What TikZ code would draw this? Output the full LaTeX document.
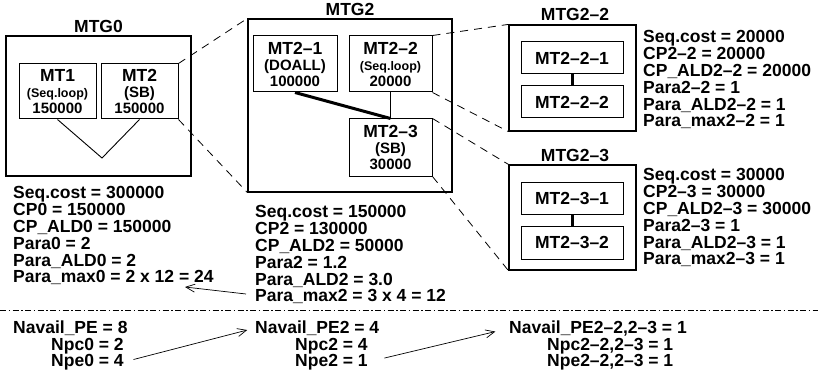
\documentclass[tikz,border=0pt]{standalone}
\usepackage{fontspec}
\setmainfont{Liberation Sans}
\usetikzlibrary{arrows.meta}
\newcommand{\subl}[1]{{\fontsize{12.5}{16}\selectfont #1}}
\newcommand{\numl}[1]{{\fontsize{15}{16}\selectfont #1}}
\begin{document}
\begin{tikzpicture}[x=1pt,y=-1pt,
  every node/.style={inner sep=0pt},
  txt/.style={font=\fontsize{17.5}{16.8}\selectfont\bfseries},
  grp/.style 2 args={draw,line width=1.2pt,minimum width=#1,minimum height=#2},
  mtbox/.style 2 args={draw,line width=1pt,minimum width=#1,minimum height=#2,
    align=center,font=\fontsize{17.5}{16}\selectfont\bfseries},
  stat/.style={txt,align=left,anchor=north west},
  zoomline/.style={line width=0.8pt,dash pattern=on 8pt off 6pt},
  arr/.style={-{Straight Barb[length=9pt,width=8pt]},line width=0.7pt}]
\useasboundingbox (0,0) rectangle (818,374);
% MTG0
\node[txt,anchor=base] (tmtg0) at (98.5,32.3) {MTG0};
\node[grp={185pt}{140pt}] (mtg0) at (98.5,106) {};
\node[mtbox={77pt}{55pt}] (mt1) at (57.5,91.5) {MT1\\\subl{(Seq.loop)}\\\numl{150000}};
\node[mtbox={77pt}{55pt}] (mt2) at (139.5,91.5) {MT2\\\numl{(SB)}\\\numl{150000}};
\coordinate (join0) at (102,158);
\draw[line width=0.9pt] (mt1.south) -- (join0) -- (mt2.south);
% MTG2
\node[txt,anchor=base] (tmtg2) at (350,15.3) {MTG2};
\node[grp={204pt}{173pt}] (mtg2) at (350,105.5) {};
\node[mtbox={84pt}{56pt}] (mt21) at (295,64) {MT2–1\\\numl{(DOALL)}\\\numl{100000}};
\node[mtbox={83pt}{56pt}] (mt22) at (390.5,64) {MT2–2\\\subl{(Seq.loop)}\\\numl{20000}};
\node[mtbox={83pt}{57pt}] (mt23) at (390.5,147.5) {MT2–3\\\numl{(SB)}\\\numl{30000}};
\draw[line width=3pt] (mt21.south) -- (mt23.north);
\draw[line width=1pt] (mt22.south) -- (mt23.north);
% MTG2-2
\node[txt,anchor=base] (tmtg22) at (575,20.3) {MTG2–2};
\node[grp={127pt}{106pt}] (mtg22) at (572.5,78) {};
\node[mtbox={102pt}{32pt}] (mt221) at (572,58) {MT2–2–1};
\node[mtbox={102pt}{32pt}] (mt222) at (572,102) {MT2–2–2};
\draw[line width=3pt] (mt221.south) -- (mt222.north);
% MTG2-3
\node[txt,anchor=base] (tmtg23) at (575,161.3) {MTG2–3};
\node[grp={127pt}{105pt}] (mtg23) at (572.5,217.5) {};
\node[mtbox={102pt}{32pt}] (mt231) at (572,198) {MT2–3–1};
\node[mtbox={102pt}{33pt}] (mt232) at (572,242.5) {MT2–3–2};
\draw[line width=3pt] (mt231.south) -- (mt232.north);
% zoom lines
\draw[zoomline] (mt2.north east) -- (mtg2.north west);
\draw[zoomline] (mt2.south east) -- (mtg2.south west);
\draw[zoomline] (mt22.north east) -- (mtg22.north west);
\draw[zoomline] (mt22.south east) -- (mtg22.south west);
\draw[zoomline] (mt23.north east) -- (mtg23.north west);
\draw[zoomline] (mt23.south east) -- (mtg23.south west);
% costs
\node[stat] (st0) at (13,186.5) {Seq.cost = 300000\\CP0 = 150000\\CP\_ALD0 = 150000\\Para0 = 2\\Para\_ALD0 = 2\\Para\_max0 = 2 x 12 = 24};
\node[stat] (st2) at (255,205.5) {Seq.cost = 150000\\CP2 = 130000\\CP\_ALD2 = 50000\\Para2 = 1.2\\Para\_ALD2 = 3.0\\Para\_max2 = 3 x 4 = 12};
\node[stat] (st22) at (643,30.5) {Seq.cost = 20000\\CP2–2 = 20000\\CP\_ALD2–2 = 20000\\Para2–2 = 1\\Para\_ALD2–2 = 1\\Para\_max2–2 = 1};
\node[stat] (st23) at (643,168.5) {Seq.cost = 30000\\CP2–3 = 30000\\CP\_ALD2–3 = 30000\\Para2–3 = 1\\Para\_ALD2–3 = 1\\Para\_max2–3 = 1};
\coordinate (pm2) at (246,294);
\coordinate (pm0) at (185,287);
\draw[arr] (pm2) -- (pm0);
% separator
\coordinate (sepl) at (0,310);
\coordinate (sepr) at (818,310);
\draw[line width=0.8pt,dash pattern=on 6pt off 2.5pt on 1.5pt off 2.5pt] (sepl) -- (sepr);
% processors
\node[txt,anchor=base west] (nav0) at (13,333.3) {Navail\_PE = 8};
\node[txt,anchor=base west] (npc0) at (51,350.3) {Npc0 = 2};
\node[txt,anchor=base west] (npe0) at (51,366.3) {Npe0 = 4};
\node[txt,anchor=base west] (nav2) at (255,333.3) {Navail\_PE2 = 4};
\node[txt,anchor=base west] (npc2) at (295,350.3) {Npc2 = 4};
\node[txt,anchor=base west] (npe2) at (295,366.3) {Npe2 = 1};
\node[txt,anchor=base west] (nav23) at (509,333.3) {Navail\_PE2–2,2–3 = 1};
\node[txt,anchor=base west] (npc23) at (547,350.3) {Npc2–2,2–3 = 1};
\node[txt,anchor=base west] (npe23) at (547,366.3) {Npe2–2,2–3 = 1};
\draw[arr,shorten <=10pt,shorten >=8pt] (npe0.east) -- (nav2.west);
\draw[arr,shorten <=17pt,shorten >=14pt] (npe2.east) -- (nav23.west);
\end{tikzpicture}
\end{document}
